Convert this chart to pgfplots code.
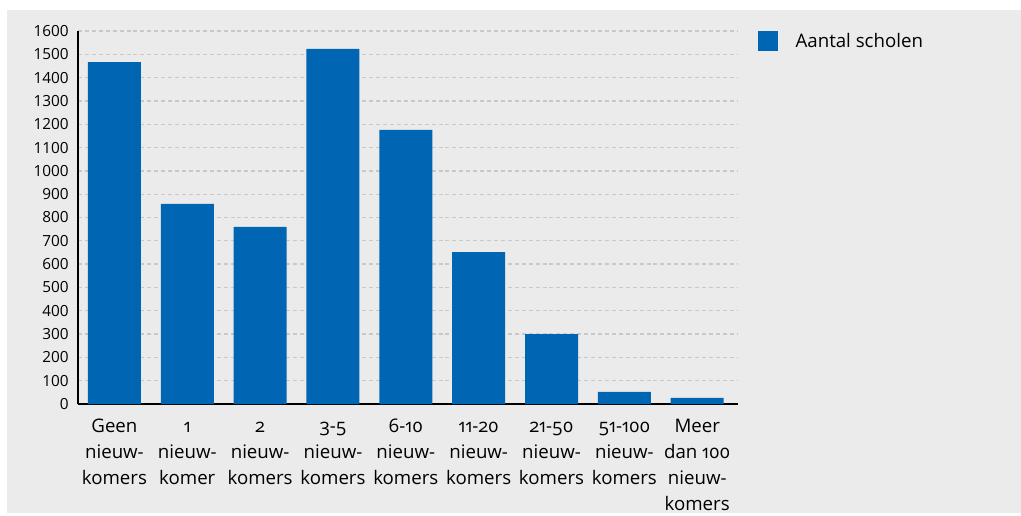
\documentclass[border=0pt]{standalone}
\usepackage{fontspec}
\setmainfont{Open Sans}
\newfontfamily\osf{Open Sans}[Numbers=OldStyle]
\usepackage{pgfplots}
\pgfplotsset{compat=1.18}
\definecolor{barblue}{RGB}{0,102,179}
\definecolor{bggray}{RGB}{235,235,235}
\definecolor{gridgray}{RGB}{200,200,200}
\newcommand{\capht}{\vphantom{G}}

\begin{document}
\begin{tikzpicture}[x=0.75pt,y=0.75pt]
\useasboundingbox (0,0) rectangle (1021,515);
\fill[bggray] (7,2) rectangle (1021,505);
\begin{axis}[
    at={(58.5pt,83.25pt)}, anchor=south west,
    scale only axis,
    width=495pt, height=279.75pt,
    xmin=-0.5, xmax=8.56,
    ymin=0, ymax=1600,
    axis x line*=bottom, axis y line*=left,
    axis line style={-, black, line width=0.9pt},
    major tick length=0pt,
    ytick={0,100,...,1600},
    xtick={0,...,8},
    xticklabels={{\capht Geen\\nieuw-\\komers},{\capht 1\\nieuw-\\komer},{\capht 2\\nieuw-\\komers},{\capht 3-5\\nieuw-\\komers},{\capht 6-10\\nieuw-\\komers},{\capht 11-20\\nieuw-\\komers},{\capht 21-50\\nieuw-\\komers},{\capht 51-100\\nieuw-\\komers},{\capht Meer\\dan 100\\nieuw-\\komers}},
    xticklabel style={align=center, yshift=-8pt, font=\osf\fontsize{14}{19.3}\selectfont},
    yticklabel style={xshift=-3.5pt, font=\fontsize{11.5}{12}\selectfont},
    /pgf/number format/assume math mode=true,
    /pgf/number format/set thousands separator={},
    ymajorgrids,
    grid style={gridgray, line width=1pt, dash pattern=on 3pt off 2.2pt},
    ybar, bar width=39.75pt,
    legend style={at={(1.0303,1.0027)}, anchor=north west, draw=none, fill=none,
        inner sep=0pt, font=\fontsize{14}{17}\selectfont},
    legend image code/.code={\fill[#1] (0pt,-7.5pt) rectangle (15pt,7.5pt); \path (26pt,0pt);},
]
\addplot[fill=barblue, draw=none] coordinates {
    (0,1467) (1,858) (2,760) (3,1523) (4,1176) (5,652) (6,300) (7,52) (8,26)};
\addlegendentry{Aantal scholen}
\end{axis}
\end{tikzpicture}
\end{document}
